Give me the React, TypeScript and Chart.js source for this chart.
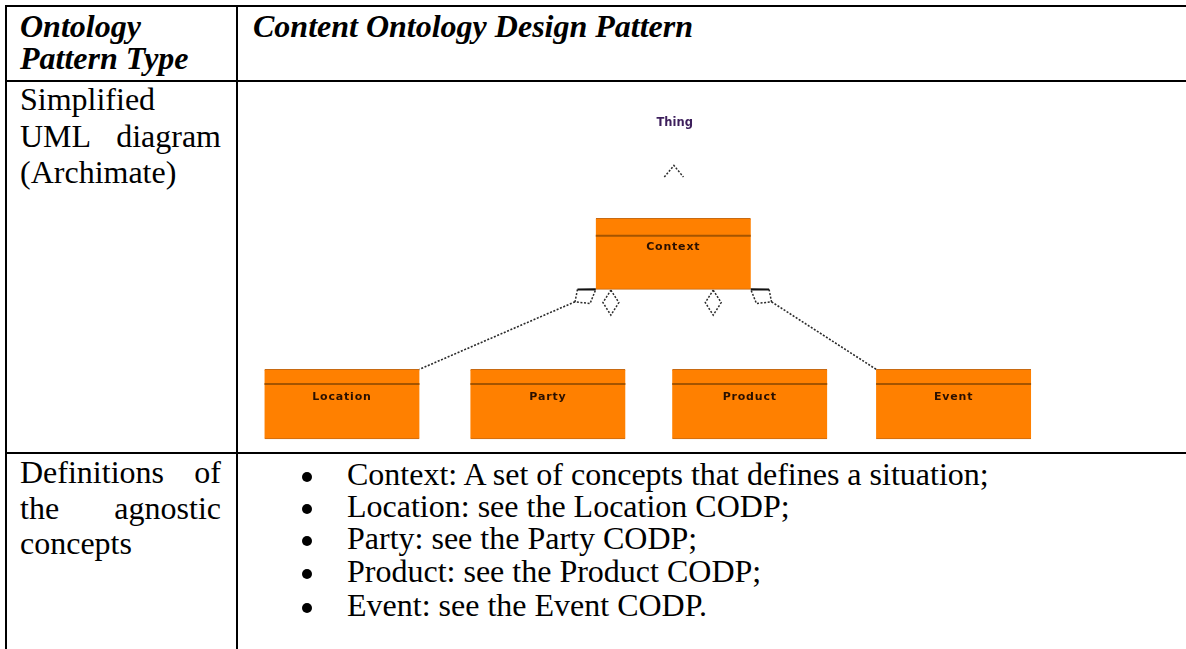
import React, { useEffect, useRef } from 'react';
import { Chart, registerables } from 'chart.js';

Chart.register(...registerables);

// ---------- table text ----------
const HEADER_LEFT = ['Ontology', 'Pattern Type'];
const HEADER_RIGHT = 'Content Ontology Design Pattern';
const ROW1_LABEL = [['Simplified'], ['UML', 'diagram'], ['(Archimate)']];
const ROW2_LABEL = [['Definitions', 'of'], ['the', 'agnostic'], ['concepts']];
const DEFINITIONS = [
  'Context: A set of concepts that defines a situation;',
  'Location: see the Location CODP;',
  'Party: see the Party CODP;',
  'Product: see the Product CODP;',
  'Event: see the Event CODP.',
];

// ---------- diagram data (slot = horizontal position, level range = vertical extent) ----------
const ROOT_NAME = 'Thing';
const PARENT_NAME = 'Context';
const CHILD_NAMES = ['Location', 'Party', 'Product', 'Event'];
const CHILD_SLOTS = [0, 1.01, 2, 3];
const PARENT_SLOT = 1.625;
const CHILD_RANGE: [number, number] = [13, 82.7];
const PARENT_RANGE: [number, number] = [162.7, 233.7];
const ROOT_LEVEL = 329;
const LINKED_CHILDREN = ['Location', 'Event'];
const STUB_SLOTS = [1.319, 1.821];

// ---------- layout / style ----------
const FONT = '"Liberation Serif", "Times New Roman", serif';
const X_MIN = -0.51;
const X_MAX = 4.14;
const Y_MAX = 370;
const BOX_HALF = 0.38;
const ORANGE = '#FF8000';
const EDGE = '#C86A12';
const DIVIDER = '#A45400';
const DOT = '#2a2a2a';
const DASH = [2, 1.6];

const seg = (pts: { x: number; y: number }[], color: string, width: number, dash: number[]) => ({
  type: 'line' as const,
  data: pts,
  borderColor: color,
  borderWidth: width,
  borderDash: dash,
  pointRadius: 0,
  fill: false,
  tension: 0,
  order: 0,
});

function Diagram() {
  const ref = useRef<HTMLCanvasElement | null>(null);
  useEffect(() => {
    if (!ref.current) return;
    const pL = PARENT_SLOT - BOX_HALF;
    const pR = PARENT_SLOT + BOX_HALF;
    const pB = PARENT_RANGE[0];
    const datasets: any[] = [];

    // header dividers in boxes
    CHILD_SLOTS.forEach((s) => {
      datasets.push(seg([{ x: s - BOX_HALF, y: CHILD_RANGE[1] - 14.7 }, { x: s + BOX_HALF, y: CHILD_RANGE[1] - 14.7 }], DIVIDER, 2, []));
    });
    datasets.push(seg([{ x: pL, y: PARENT_RANGE[1] - 17.4 }, { x: pR, y: PARENT_RANGE[1] - 17.4 }], DIVIDER, 2, []));

    // generalization arrow head (open)
    datasets.push(seg([
      { x: PARENT_SLOT + 0.003 - 0.047, y: ROOT_LEVEL - 54 },
      { x: PARENT_SLOT + 0.003, y: ROOT_LEVEL - 42.5 },
      { x: PARENT_SLOT + 0.003 + 0.047, y: ROOT_LEVEL - 54 },
    ], DOT, 1.5, DASH));

    // stub aggregation diamonds
    STUB_SLOTS.forEach((s) => {
      datasets.push(seg([
        { x: s, y: pB - 0.8 },
        { x: s + 0.039, y: pB - 13.3 },
        { x: s, y: pB - 25.8 },
        { x: s - 0.039, y: pB - 13.3 },
        { x: s, y: pB - 0.8 },
      ], DOT, 1.5, DASH));
    });

    // linked aggregations (left: Location, right: Event)
    LINKED_CHILDREN.forEach((name) => {
      const i = CHILD_NAMES.indexOf(name);
      const leftSide = CHILD_SLOTS[i] < PARENT_SLOT;
      const sgn = leftSide ? -1 : 1;
      const cx = leftSide ? pL : pR;
      const A = { x: cx, y: pB };
      const B = { x: cx + sgn * 0.09, y: pB - 0.2 };
      const C = { x: cx + sgn * 0.102, y: pB - 12.5 };
      const D = { x: cx + sgn * 0.028, y: pB - 14.2 };
      datasets.push(seg([A, B], '#111', 2.2, []));
      datasets.push(seg([B, C, D, A], DOT, 1.5, DASH));
      const corner = { x: CHILD_SLOTS[i] - sgn * BOX_HALF, y: CHILD_RANGE[1] };
      datasets.push(seg([C, corner], DOT, 1.6, DASH));
    });

    // boxes (floating bars)
    datasets.push({
      type: 'bar',
      data: CHILD_SLOTS.map((s) => ({ x: s, y: CHILD_RANGE })),
      backgroundColor: ORANGE,
      borderColor: EDGE,
      borderWidth: { top: 1, bottom: 1, left: 0, right: 0 },
      borderSkipped: false,
      barThickness: 155,
      grouped: false,
      order: 10,
    });
    datasets.push({
      type: 'bar',
      data: [{ x: PARENT_SLOT, y: PARENT_RANGE }],
      backgroundColor: ORANGE,
      borderColor: EDGE,
      borderWidth: { top: 1, bottom: 1, left: 0, right: 0 },
      borderSkipped: false,
      barThickness: 155,
      grouped: false,
      order: 10,
    });

    const labels = {
      id: 'boxLabels',
      afterDatasetsDraw(chart: any) {
        const { ctx } = chart;
        const xs = chart.scales.x;
        const ys = chart.scales.y;
        ctx.save();
        ctx.textAlign = 'center';
        ctx.textBaseline = 'middle';
        ctx.font = 'bold 11px "DejaVu Sans"';
        (ctx as any).letterSpacing = '0.8px';
        ctx.fillStyle = '#2a1000';
        CHILD_NAMES.forEach((n, i) => {
          ctx.fillText(n, xs.getPixelForValue(CHILD_SLOTS[i]), ys.getPixelForValue(CHILD_RANGE[1] - 28));
        });
        ctx.fillText(PARENT_NAME, xs.getPixelForValue(PARENT_SLOT), ys.getPixelForValue(PARENT_RANGE[1] - 28.4));
        (ctx as any).letterSpacing = '0px';
        ctx.font = 'bold 11.5px "DejaVu Sans"';
        ctx.fillStyle = '#3d1f5c';
        ctx.fillText(ROOT_NAME, xs.getPixelForValue(PARENT_SLOT + 0.007), ys.getPixelForValue(ROOT_LEVEL));
        ctx.restore();
      },
    };

    const chart = new Chart(ref.current, {
      type: 'bar',
      data: { datasets },
      options: {
        animation: false,
        responsive: false,
        maintainAspectRatio: false,
        devicePixelRatio: 1,
        layout: { padding: 0 },
        plugins: { legend: { display: false }, tooltip: { enabled: false }, title: { display: false } },
        events: [],
        scales: {
          x: { type: 'linear', min: X_MIN, max: X_MAX, display: false, offset: false, grid: { offset: false } },
          y: { type: 'linear', min: 0, max: Y_MAX, display: false },
        },
      } as any,
      plugins: [labels],
    });
    return () => chart.destroy();
  }, []);
  return (
    <canvas
      ref={ref}
      width={948}
      height={370}
      style={{ position: 'absolute', left: 238, top: 82, width: 948, height: 370 }}
    />
  );
}

const line = (baseline: number, left: number, content: React.ReactNode, extra: React.CSSProperties = {}, key?: string) => (
  <div
    key={key}
    style={{
      position: 'absolute',
      left,
      top: baseline - 28.8,
      height: 36,
      lineHeight: '36px',
      fontSize: 32,
      fontFamily: FONT,
      color: '#000',
      whiteSpace: 'pre',
      ...extra,
    }}
  >
    {content}
  </div>
);

const justified = (baseline: number, words: string[], key: string) =>
  line(
    baseline,
    20,
    words.length > 1 ? (
      <div style={{ display: 'flex', justifyContent: 'space-between', width: 201 }}>
        {words.map((w) => (
          <span key={w}>{w}</span>
        ))}
      </div>
    ) : (
      words[0]
    ),
    { width: 201 },
    key
  );

export default function App() {
  const rule = (left: number, top: number, width: number, height: number, key: string) => (
    <div key={key} style={{ position: 'absolute', left, top, width, height, background: '#000' }} />
  );
  const row1Base = [110, 147, 183];
  const row2Base = [483, 519, 554];
  const bulletBase = [485, 517, 549, 582, 616];
  return (
    <div style={{ position: 'fixed', left: 0, top: 0, width: 1186, height: 649, background: '#fff', overflow: 'hidden' }}>
      {rule(5, 5, 1181, 2, 'h1')}
      {rule(5, 80, 1181, 2, 'h2')}
      {rule(5, 452, 1181, 2, 'h3')}
      {rule(5, 5, 2, 644, 'v1')}
      {rule(236, 5, 2, 644, 'v2')}

      {HEADER_LEFT.map((t, i) =>
        line(37 + i * 32, 20, t, { fontWeight: 'bold', fontStyle: 'italic' }, 'hl' + i)
      )}
      {line(37, 253, HEADER_RIGHT, { fontWeight: 'bold', fontStyle: 'italic' }, 'hr')}

      {ROW1_LABEL.map((w, i) => justified(row1Base[i], w, 'r1' + i))}
      {ROW2_LABEL.map((w, i) => justified(row2Base[i], w, 'r2' + i))}

      {DEFINITIONS.map((d, i) => (
        <React.Fragment key={'d' + i}>
          <div
            style={{
              position: 'absolute',
              left: 302,
              top: bulletBase[i] - 13,
              width: 10,
              height: 10,
              borderRadius: '50%',
              background: '#000',
            }}
          />
          {line(bulletBase[i], 347, d)}
        </React.Fragment>
      ))}

      <Diagram />
    </div>
  );
}
